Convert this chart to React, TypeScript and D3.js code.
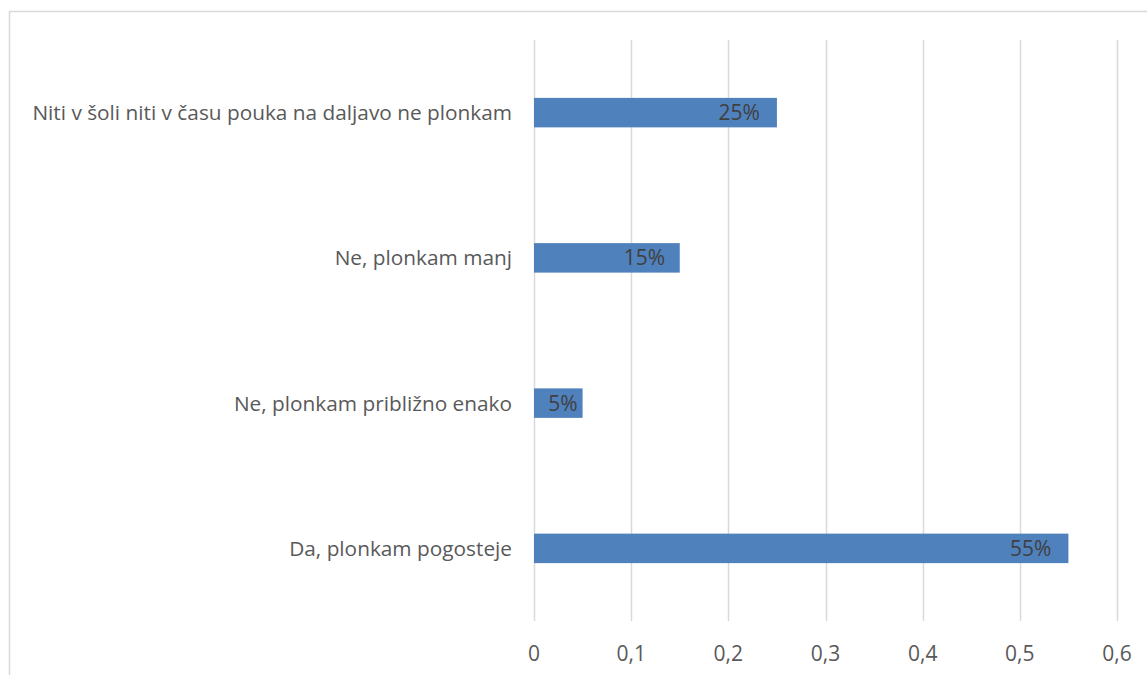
import React from "react";
import * as d3 from "d3";

const categories = [
  "Da, plonkam pogosteje",
  "Ne, plonkam približno enako",
  "Ne, plonkam manj",
  "Niti v šoli niti v času pouka na daljavo ne plonkam",
];
const values = [0.55, 0.05, 0.15, 0.25];
const valueLabels = ["55%", "5%", "15%", "25%"];
const tickValues = [0, 0.1, 0.2, 0.3, 0.4, 0.5, 0.6];
const tickLabels = ["0", "0,1", "0,2", "0,3", "0,4", "0,5", "0,6"];

const W = 1147;
const H = 675;
const plot = { left: 534, right: 1117, top: 40, bottom: 621 };
const font = "'Open Sans', 'Liberation Sans', sans-serif";

export default function App() {
  const x = d3.scaleLinear().domain([0, 0.6]).range([plot.left, plot.right]);
  const y = d3
    .scaleBand<string>()
    .domain(categories)
    .range([plot.bottom, plot.top])
    .padding(0);
  const barH = y.bandwidth() * 0.203;

  return (
    <svg
      width={W}
      height={H}
      style={{ position: "absolute", left: 0, top: 0, background: "#fff" }}
    >
      <rect x={0} y={0} width={W} height={H} fill="#fff" />
      <rect
        x={9.5}
        y={11.5}
        width={W + 50}
        height={H + 50}
        fill="#fff"
        stroke="#D9D9D9"
        strokeWidth={1.5}
      />
      {tickValues.map((t, i) => (
        <g key={i}>
          <line
            x1={Math.round(x(t)) + 0.5}
            x2={Math.round(x(t)) + 0.5}
            y1={plot.top}
            y2={plot.bottom}
            stroke="#D9D9D9"
            strokeWidth={1.5}
          />
          <text
            x={x(t)}
            y={661}
            textAnchor="middle"
            fontFamily={font}
            fontSize={21}
            fill="#595959"
          >
            {tickLabels[i]}
          </text>
        </g>
      ))}
      {categories.map((c, i) => {
        const cy = (y(c) as number) + y.bandwidth() / 2;
        const x0 = x(0);
        const x1 = x(values[i]);
        const bw = x1 - x0;
        const off = Math.min(17, bw * 0.1);
        return (
          <g key={c}>
            <rect
              x={x0}
              y={cy - barH / 2}
              width={bw}
              height={barH}
              fill="#4F81BD"
            />
            <text
              x={plot.left - 22}
              y={cy}
              dy="0.36em"
              textAnchor="end"
              fontFamily={font}
              fontSize={20.8}
              fill="#595959"
            >
              {c}
            </text>
            <text
              x={x1 - off}
              y={cy}
              dy="0.36em"
              textAnchor="end"
              fontFamily={font}
              fontSize={21}
              fill="#404040"
            >
              {valueLabels[i]}
            </text>
          </g>
        );
      })}
    </svg>
  );
}
